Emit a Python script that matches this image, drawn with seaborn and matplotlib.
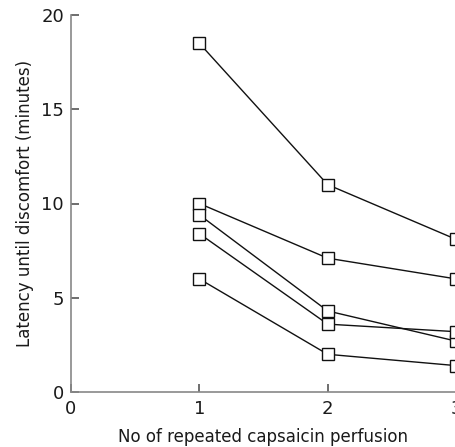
import matplotlib
matplotlib.use("Agg")
import matplotlib.pyplot as plt
import seaborn as sns
import pandas as pd

perfusion = [1, 2, 3]
subject_a = [18.5, 11.0, 8.1]
subject_b = [10.0, 7.1, 6.0]
subject_c = [9.4, 4.3, 2.7]
subject_d = [8.4, 3.6, 3.2]
subject_e = [6.0, 2.0, 1.4]
x_ticks = [0, 1, 2, 3]
y_ticks = [0, 5, 10, 15, 20]

series = {"A": subject_a, "B": subject_b, "C": subject_c, "D": subject_d, "E": subject_e}
rows = []
for name, vals in series.items():
    for x, v in zip(perfusion, vals):
        rows.append({"subject": name, "perfusion": x, "latency": v})
df = pd.DataFrame(rows)

sns.set_style("ticks")
plt.rcParams["font.family"] = ["DejaVu Sans"]

fig = plt.figure(figsize=(4.56, 4.47), dpi=100)
ax = fig.add_axes([71/456, 55/447, (456-71)/456, (392-15)/447])

sns.lineplot(data=df, x="perfusion", y="latency", units="subject", estimator=None,
             color="#111111", linewidth=1.0, marker="s", markersize=8.5,
             markerfacecolor="white", markeredgecolor="#111111", markeredgewidth=1.0,
             ax=ax, clip_on=False)

ax.set_xlim(0, 3)
ax.set_ylim(0, 20)
ax.set_xticks(x_ticks)
ax.set_yticks(y_ticks)
ax.tick_params(direction="in", length=6, width=1.2, colors="#555555", labelsize=13, labelcolor="#1a1a1a")
ax.tick_params(axis="x", pad=6)
ax.tick_params(axis="y", pad=5)
for s in ["top", "right"]:
    ax.spines[s].set_visible(False)
for s in ["left", "bottom"]:
    ax.spines[s].set_color("#888888")
    ax.spines[s].set_linewidth(1.2)
ax.set_xlabel("No of repeated capsaicin perfusion", fontsize=12, color="#1a1a1a", labelpad=7)
ax.set_ylabel("Latency until discomfort (minutes)", fontsize=12, color="#1a1a1a", labelpad=5)

fig.savefig("out.png", dpi=100)
